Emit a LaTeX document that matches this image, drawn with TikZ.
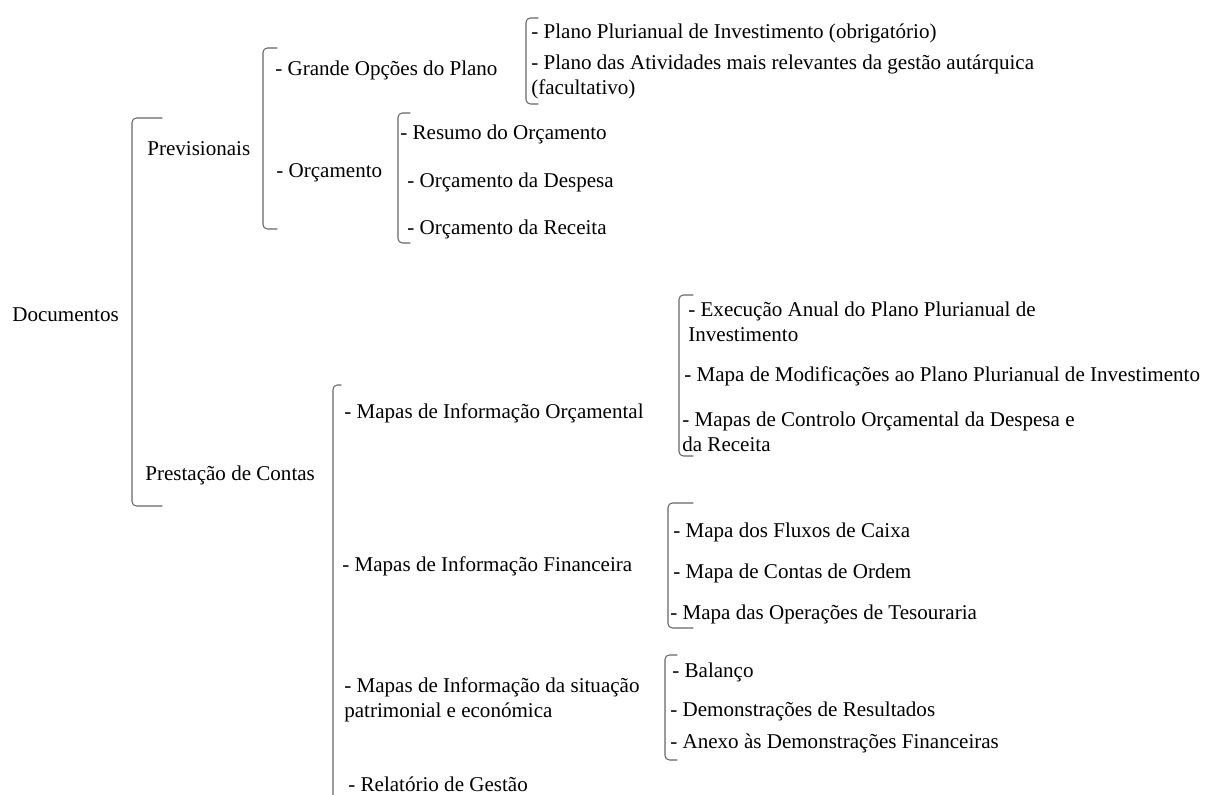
\documentclass[tikz,border=0pt]{standalone}
\usepackage{fontspec}
\setmainfont{Liberation Serif}

\begin{document}
\begin{tikzpicture}[x=0.57pt, y=-0.57pt, line join=round, line cap=round,
    font=\fontsize{12}{14.4}\selectfont,
    lbl/.style={anchor=west, inner sep=0pt, align=left},
    brk/.style={draw=black!60, line width=0.6pt, rounded corners=2.5pt}]
    \clip (0,0) rectangle (1208,795);
    % text of the scheme
    \node[lbl] (doc) at (12,315) {Documentos};
    \node[lbl] (prev) at (147,149) {Previsionais};
    \node[lbl] (prest) at (145,475) {Prestação de Contas};
    \node[lbl] (gop) at (275,70) {- Grande Opções do Plano};
    \node[lbl] (orc) at (276,173) {- Orçamento};
    \node[lbl] (ppi) at (531,33) {- Plano Plurianual de Investimento (obrigatório)};
    \node[lbl] (pativ) at (531,77) {- Plano das Atividades mais relevantes da gestão autárquica\\(facultativo)};
    \node[lbl] (resumo) at (400,134) {- Resumo do Orçamento};
    \node[lbl] (despesa) at (407,182) {- Orçamento da Despesa};
    \node[lbl] (receita) at (407,229) {- Orçamento da Receita};
    \node[lbl] (mio) at (344,413) {- Mapas de Informação Orçamental};
    \node[lbl] (mif) at (342,566) {- Mapas de Informação Financeira};
    \node[lbl] (mis) at (344,700) {- Mapas de Informação da situação\\patrimonial e económica};
    \node[lbl] (relat) at (348,784) {- Relatório de Gestão};
    \node[lbl] (exec) at (688,322) {- Execução Anual do Plano Plurianual de\\Investimento};
    \node[lbl] (modif) at (684,376) {- Mapa de Modificações ao Plano Plurianual de Investimento};
    \node[lbl] (controlo) at (682,432) {- Mapas de Controlo Orçamental da Despesa e\\da Receita};
    \node[lbl] (fluxos) at (673,532) {- Mapa dos Fluxos de Caixa};
    \node[lbl] (ordem) at (673,573) {- Mapa de Contas de Ordem};
    \node[lbl] (tesour) at (670,614) {- Mapa das Operações de Tesouraria};
    \node[lbl] (balanco) at (672,672) {- Balanço};
    \node[lbl] (demres) at (670,711) {- Demonstrações de Resultados};
    \node[lbl] (anexo) at (670,743) {- Anexo às Demonstrações Financeiras};

    % brackets: x / top / bottom / hook end
    \foreach \x/\t/\b/\h in {132/118/506/162, 263/48/229/277, 526/18/104/538,
        398/113/243/410, 333/385/830/341, 679/295/456/693, 668/503/628/693,
        665/655/760/677}{
        \draw[brk] (\h,\t) -- (\x,\t) -- (\x,\b) -- (\h,\b);
    }
\end{tikzpicture}
\end{document}
